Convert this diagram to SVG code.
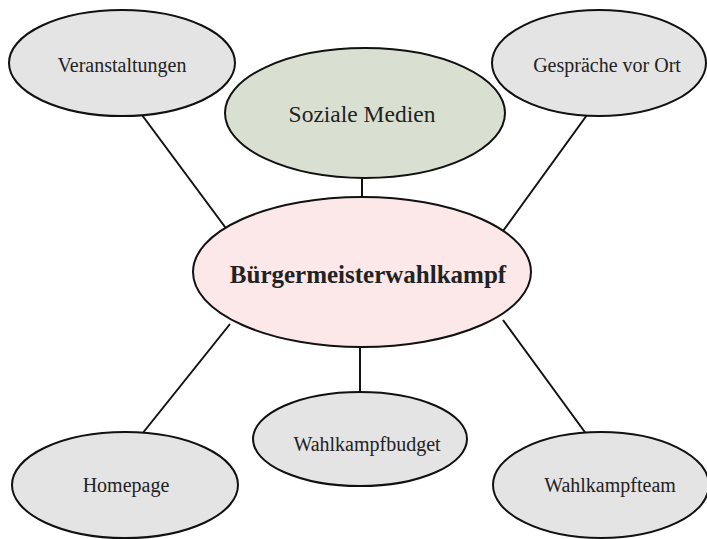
<svg xmlns="http://www.w3.org/2000/svg" width="707" height="539" viewBox="0 0 707 539">
<style>
.n{stroke:#111;stroke-width:2}
.g{fill:#e4e4e4}
.t{font-family:"Liberation Serif","Times New Roman",serif;fill:#222;text-anchor:middle}
.c{stroke:#111;stroke-width:2;fill:none}
</style>
<rect width="707" height="539" fill="#fff"/>
<g id="connectors">
<line class="c" x1="142" y1="115" x2="228" y2="231"/>
<line class="c" x1="587" y1="115" x2="503" y2="231"/>
<line class="c" x1="142" y1="434" x2="230" y2="324"/>
<line class="c" x1="587" y1="435" x2="503" y2="320"/>
<line class="c" x1="362" y1="176" x2="362" y2="200"/>
<line class="c" x1="360" y1="343" x2="360" y2="394"/>
</g>
<g id="veranstaltungen">
<ellipse class="n g" cx="122" cy="63" rx="113" ry="53"/>
<text class="t" x="122" y="72" font-size="20">Veranstaltungen</text>
</g>
<g id="soziale-medien">
<ellipse class="n" fill="#d9e0d2" cx="365" cy="113" rx="140" ry="65"/>
<text class="t" x="362" y="122" font-size="23.5">Soziale Medien</text>
</g>
<g id="gespraeche">
<ellipse class="n g" cx="599" cy="63" rx="107" ry="53"/>
<text class="t" x="607" y="72" font-size="20">Gespräche vor Ort</text>
</g>
<g id="buergermeisterwahlkampf">
<ellipse class="n" fill="#fce8e8" cx="362" cy="272" rx="169" ry="75"/>
<text class="t" x="368" y="283" font-size="25" font-weight="bold" fill="#1a1010">Bürgermeisterwahlkampf</text>
</g>
<g id="homepage">
<ellipse class="n g" cx="125" cy="485" rx="113" ry="53"/>
<text class="t" x="126" y="492" font-size="20">Homepage</text>
</g>
<g id="wahlkampfbudget">
<ellipse class="n g" cx="360" cy="439" rx="107" ry="47"/>
<text class="t" x="367" y="451" font-size="20">Wahlkampfbudget</text>
</g>
<g id="wahlkampfteam">
<ellipse class="n g" cx="601" cy="485" rx="108" ry="53"/>
<text class="t" x="610" y="492" font-size="20">Wahlkampfteam</text>
</g>
</svg>
